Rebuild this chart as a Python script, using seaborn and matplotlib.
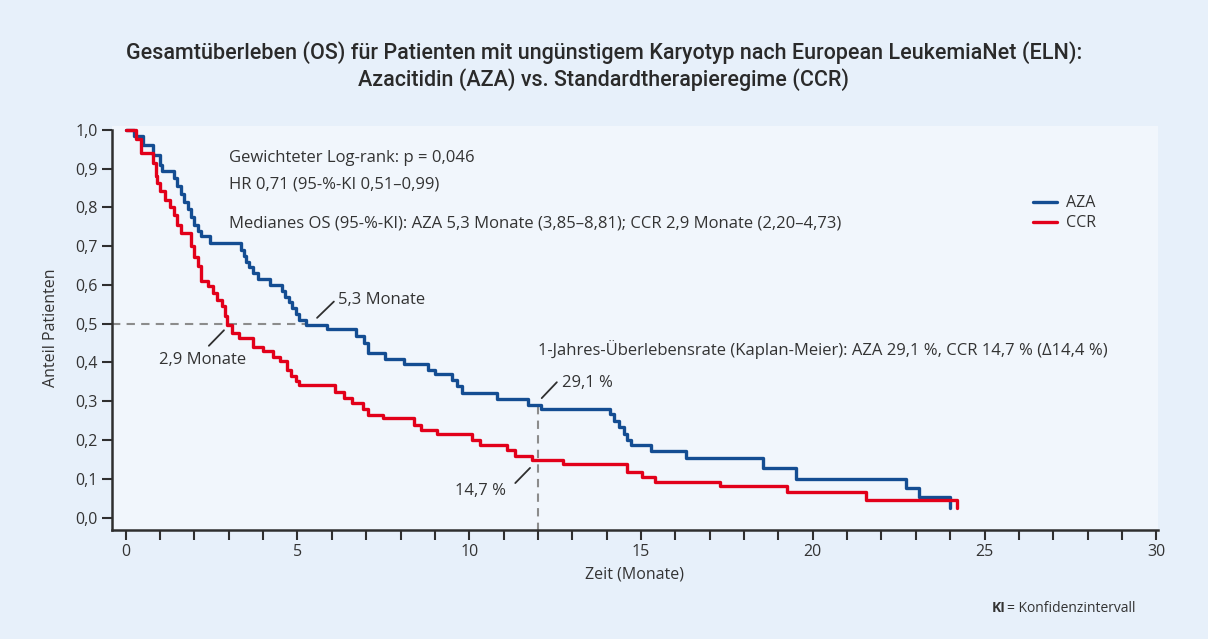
import numpy as np
import pandas as pd
import matplotlib
matplotlib.use("Agg")
import matplotlib.pyplot as plt
import seaborn as sns

# ---------------- data ----------------
aza_time = [0, 0.25, 0.5, 0.8, 1.0, 1.05, 1.4, 1.5, 1.6, 1.7, 1.8, 1.9, 2.0, 2.1, 2.2, 2.45,
            3.35, 3.45, 3.5, 3.6, 3.7, 3.85, 4.2, 4.55, 4.65, 4.75, 4.85, 4.95, 5.05, 5.25,
            5.85, 6.7, 6.95, 7.05, 7.55, 8.1, 8.8, 9.0, 9.5, 9.65, 9.8, 10.8, 11.7, 12.1,
            14.1, 14.2, 14.35, 14.5, 14.6, 14.7, 15.3, 16.3, 18.55, 19.5, 22.7, 23.1, 24.0]
aza_surv = [1.0, 0.985, 0.96, 0.935, 0.91, 0.893, 0.875, 0.855, 0.835, 0.815, 0.795, 0.775, 0.755,
            0.74, 0.725, 0.708, 0.69, 0.675, 0.66, 0.645, 0.63, 0.615, 0.60, 0.585, 0.57, 0.555,
            0.54, 0.525, 0.51, 0.497, 0.485, 0.468, 0.45, 0.425, 0.41, 0.397, 0.381, 0.369,
            0.356, 0.338, 0.321, 0.306, 0.291, 0.28, 0.266, 0.25, 0.233, 0.215, 0.20, 0.186,
            0.172, 0.154, 0.127, 0.10, 0.077, 0.052, 0.025]

ccr_time = [0, 0.3, 0.45, 0.78, 0.87, 0.92, 1.0, 1.15, 1.3, 1.4, 1.5, 1.6, 1.89, 2.0, 2.1, 2.2,
            2.4, 2.55, 2.65, 2.8, 2.9, 2.95, 3.1, 3.3, 3.7, 4.0, 4.3, 4.5, 4.7, 4.8, 4.95, 5.05,
            6.1, 6.35, 6.6, 6.9, 7.05, 7.5, 8.4, 8.6, 9.06, 10.08, 10.32, 11.1, 11.34, 11.82,
            12.74, 14.6, 15.02, 15.41, 17.3, 19.25, 21.56, 24.2]
ccr_surv = [1.0, 0.975, 0.94, 0.914, 0.88, 0.862, 0.841, 0.82, 0.802, 0.78, 0.755, 0.734, 0.70,
            0.673, 0.648, 0.61, 0.596, 0.579, 0.56, 0.545, 0.52, 0.497, 0.477, 0.463, 0.44,
            0.43, 0.415, 0.405, 0.38, 0.365, 0.352, 0.343, 0.325, 0.308, 0.295, 0.28, 0.265,
            0.257, 0.24, 0.227, 0.215, 0.201, 0.188, 0.173, 0.16, 0.149, 0.137, 0.118, 0.104,
            0.091, 0.081, 0.065, 0.045, 0.025]

groups = ["AZA", "CCR"]
x_ticks = [0, 5, 10, 15, 20, 25, 30]
x_ticklabels = ["0", "5", "10", "15", "20", "25", "30"]
y_ticks = [0.0, 0.1, 0.2, 0.3, 0.4, 0.5, 0.6, 0.7, 0.8, 0.9, 1.0]
y_ticklabels = ["0,0", "0,1", "0,2", "0,3", "0,4", "0,5", "0,6", "0,7", "0,8", "0,9", "1,0"]

median_aza, median_ccr = 5.3, 2.9
year_aza, year_ccr = 0.291, 0.147

title = ("Gesamtüberleben (OS) für Patienten mit ungünstigem Karyotyp nach European LeukemiaNet (ELN):\n"
         "Azacitidin (AZA) vs. Standardtherapieregime (CCR)")

# ---------------- style ----------------
sns.set_theme(style="ticks")
plt.rcParams["font.family"] = ["Open Sans", "DejaVu Sans"]

BLUE = "#144d92"
RED = "#e2001a"
GREY = "#8c8c8c"
TXT = "#333333"
FIG_BG = "#e7f0fa"
AX_BG = "#f1f6fc"

df = pd.concat([
    pd.DataFrame({"Zeit": aza_time, "Anteil": aza_surv, "Gruppe": groups[0]}),
    pd.DataFrame({"Zeit": ccr_time, "Anteil": ccr_surv, "Gruppe": groups[1]}),
], ignore_index=True)

fig = plt.figure(figsize=(12.08, 6.39), dpi=100, facecolor=FIG_BG)
ax = fig.add_axes([0.0927, 0.1706, 0.8659, 0.6324])
ax.set_facecolor(AX_BG)

# reference dashed lines
ax.plot([-0.4, median_aza - 0.05], [0.5, 0.5], color=GREY, lw=1.5, ls=(0, (4, 3)), zorder=1)
ax.plot([12, 12], [-0.035, year_aza - 0.004], color=GREY, lw=1.5, ls=(0, (4, 3)), zorder=1)

sns.lineplot(data=df, x="Zeit", y="Anteil", hue="Gruppe",
             palette={"AZA": BLUE, "CCR": RED}, estimator=None, sort=False,
             drawstyle="steps-post", linewidth=2.4, ax=ax, zorder=3)

ax.set_xlim(-0.4, 30.05)
ax.set_ylim(-0.032, 1.01)
ax.set_xticks(x_ticks)
ax.set_xticklabels(x_ticklabels)
ax.set_xticks(np.arange(0, 31, 1), minor=True)
ax.set_yticks(y_ticks)
ax.set_yticklabels(y_ticklabels)

for s in ["top", "right"]:
    ax.spines[s].set_visible(False)
for s in ["left", "bottom"]:
    ax.spines[s].set_color("#2f2f2f")
    ax.spines[s].set_linewidth(1.8)
ax.spines["left"].set_bounds(-0.032, 1.0)

ax.tick_params(axis="both", which="both", direction="out", length=7, width=1.5,
               color="#2f2f2f", labelsize=11.5, labelcolor=TXT, pad=3)

ax.set_xlabel("Zeit (Monate)", fontsize=11.5, color=TXT, labelpad=5)
ax.set_ylabel("Anteil Patienten", fontsize=11.5, color=TXT, labelpad=12)

# legend
handles, labels = ax.get_legend_handles_labels()
if ax.get_legend() is not None:
    ax.get_legend().remove()
ax.legend(handles, labels, loc="upper left", bbox_to_anchor=(0.8805, 0.828),
          frameon=False, fontsize=11.5, handlelength=1.5, handletextpad=0.55,
          labelspacing=0.25, borderpad=0, borderaxespad=0, labelcolor=TXT)

# statistics text
tk = dict(fontsize=12, color=TXT, va="center", ha="left")
ax.text(3.02, 0.928, "Gewichteter Log-rank: p = 0,046", **tk)
ax.text(3.02, 0.858, "HR 0,71 (95-%-KI 0,51–0,99)", **tk)
ax.text(3.02, 0.758, "Medianes OS (95-%-KI): AZA 5,3 Monate (3,85–8,81); CCR 2,9 Monate (2,20–4,73)", **tk)
ax.text(12.0, 0.433, "1-Jahres-Überlebensrate (Kaplan-Meier): AZA 29,1 %, CCR 14,7 % (Δ14,4 %)", **tk)

# annotations
lk = dict(color="#2f2f2f", lw=1.3, zorder=4)
ax.plot([5.57, 6.06], [0.515, 0.557], **lk)
ax.text(6.19, 0.562, "5,3 Monate", **tk)
ax.plot([2.42, 2.86], [0.443, 0.483], **lk)
ax.text(0.96, 0.407, "2,9 Monate", **tk)
ax.plot([12.11, 12.55], [0.308, 0.349], **lk)
ax.text(12.69, 0.347, "29,1 %", **tk)
ax.plot([11.34, 11.77], [0.089, 0.128], **lk)
ax.text(9.59, 0.068, "14,7 %", **tk)

# title
fig.text(0.5, 1 - 66 / 639, title, ha="center", va="center", fontsize=15.5, color="#2a2a2a",
         fontweight="medium", linespacing=1.25,
         family=["Roboto", "DejaVu Sans"])

# footnote
fig.text(991.5 / 1208, 1 - 608 / 639, "KI", ha="left", va="center", fontsize=10,
         fontweight="bold", color=TXT)
fig.text(1007 / 1208, 1 - 608 / 639, "= Konfidenzintervall", ha="left", va="center",
         fontsize=10, color=TXT)

fig.savefig("out.png", dpi=100, facecolor=FIG_BG)
